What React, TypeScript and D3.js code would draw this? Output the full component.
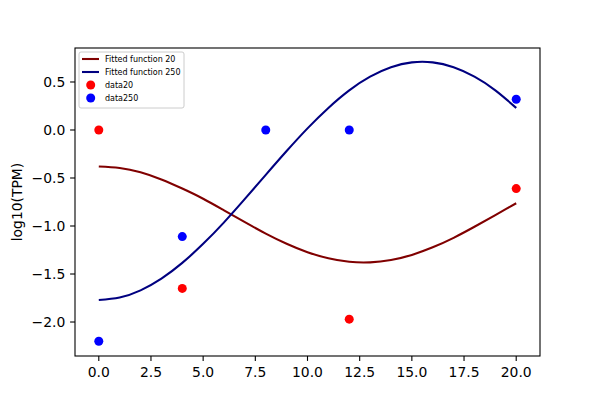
import React from 'react';
import * as d3 from 'd3';

// measured points
const data20X = [0, 4, 12, 20];
const data20Y = [0.0, -1.65, -1.97, -0.61];
const data250X = [0, 4, 8, 12, 20];
const data250Y = [-2.2, -1.11, 0.0, 0.0, 0.32];

// fitted curves at each whole x
const fitX = [0, 1, 2, 3, 4, 5, 6, 7, 8, 9, 10, 11, 12, 13, 14, 15, 16, 17, 18, 19, 20];
const fit20Y = [
  -0.38, -0.395, -0.44, -0.515, -0.61, -0.716, -0.837, -0.96, -1.079, -1.185, -1.273,
  -1.336, -1.373, -1.379, -1.354, -1.301, -1.222, -1.123, -1.008, -0.886, -0.763,
];
const fit250Y = [
  -1.77, -1.745, -1.67, -1.548, -1.384, -1.186, -0.962, -0.718, -0.467, -0.219, 0.017,
  0.23, 0.413, 0.555, 0.653, 0.704, 0.704, 0.653, 0.555, 0.413, 0.23,
];

const xTicks = [0, 2.5, 5, 7.5, 10, 12.5, 15, 17.5, 20];
const yTicks = [-2.0, -1.5, -1.0, -0.5, 0.0, 0.5];

const legendLabels = ['Fitted function 20', 'Fitted function 250', 'data20', 'data250'];

const W = 600;
const H = 400;
const left = 75;
const right = 540;
const top = 48;
const bottom = 356;
const font = 'DejaVu Sans, sans-serif';

const App: React.FC = () => {
  const x = d3.scaleLinear().domain([-1.14, 21.14]).range([left, right]);
  const y = d3.scaleLinear().domain([-2.354, 0.854]).range([bottom, top]);

  const line = d3.line<number>()
    .x((_, i) => x(fitX[i]))
    .y(d => y(d))
    .curve(d3.curveNatural);

  const fmt = (v: number) => v.toFixed(1).replace('-', '\u2212');

  const legendRows = [59, 72, 85, 98];

  return (
    <div style={{ position: 'fixed', left: 0, top: 0 }}>
      <svg width={W} height={H} style={{ display: 'block', background: '#fff' }}>
        <rect x={0} y={0} width={W} height={H} fill="#fff" />

        {/* curves */}
        <path d={line(fit20Y) || ''} fill="none" stroke="#800000" strokeWidth={2.08} />
        <path d={line(fit250Y) || ''} fill="none" stroke="#000080" strokeWidth={2.08} />

        {/* scatter */}
        {data20X.map((d, i) => (
          <circle key={'r' + i} cx={x(d)} cy={y(data20Y[i])} r={4.5} fill="#ff0000" />
        ))}
        {data250X.map((d, i) => (
          <circle key={'b' + i} cx={x(d)} cy={y(data250Y[i])} r={4.5} fill="#0000ff" />
        ))}

        {/* frame */}
        <rect x={left} y={top} width={right - left} height={bottom - top}
          fill="none" stroke="#000" strokeWidth={1.1} />

        {/* x axis */}
        {xTicks.map(t => (
          <g key={'x' + t}>
            <line x1={x(t)} x2={x(t)} y1={bottom} y2={bottom + 4.9} stroke="#000" strokeWidth={1.1} />
            <text x={x(t)} y={377} textAnchor="middle" fontFamily={font} fontSize={13.9} fill="#000">
              {fmt(t)}
            </text>
          </g>
        ))}

        {/* y axis */}
        {yTicks.map(t => (
          <g key={'y' + t}>
            <line x1={left - 4.9} x2={left} y1={y(t)} y2={y(t)} stroke="#000" strokeWidth={1.1} />
            <text x={65.3} y={y(t)} dy="0.36em" textAnchor="end" fontFamily={font} fontSize={13.9} fill="#000">
              {fmt(t)}
            </text>
          </g>
        ))}
        <text transform={`translate(22,${(top + bottom) / 2}) rotate(-90)`} textAnchor="middle"
          fontFamily={font} fontSize={13.9} fill="#000">log10(TPM)</text>

        {/* legend */}
        <rect x={79} y={52} width={105} height={56} rx={2} fill="#fff" fillOpacity={0.8}
          stroke="#cccccc" strokeWidth={1} />
        {legendLabels.map((lab, i) => (
          <g key={lab}>
            {i < 2 ? (
              <line x1={82} x2={99} y1={legendRows[i]} y2={legendRows[i]}
                stroke={i === 0 ? '#800000' : '#000080'} strokeWidth={2.08} />
            ) : (
              <circle cx={90.7} cy={legendRows[i]} r={4.5} fill={i === 2 ? '#ff0000' : '#0000ff'} />
            )}
            <text x={105} y={legendRows[i]} dy="0.36em" fontFamily={font} fontSize={8} fill="#000">
              {lab}
            </text>
          </g>
        ))}
      </svg>
    </div>
  );
};

export default App;
